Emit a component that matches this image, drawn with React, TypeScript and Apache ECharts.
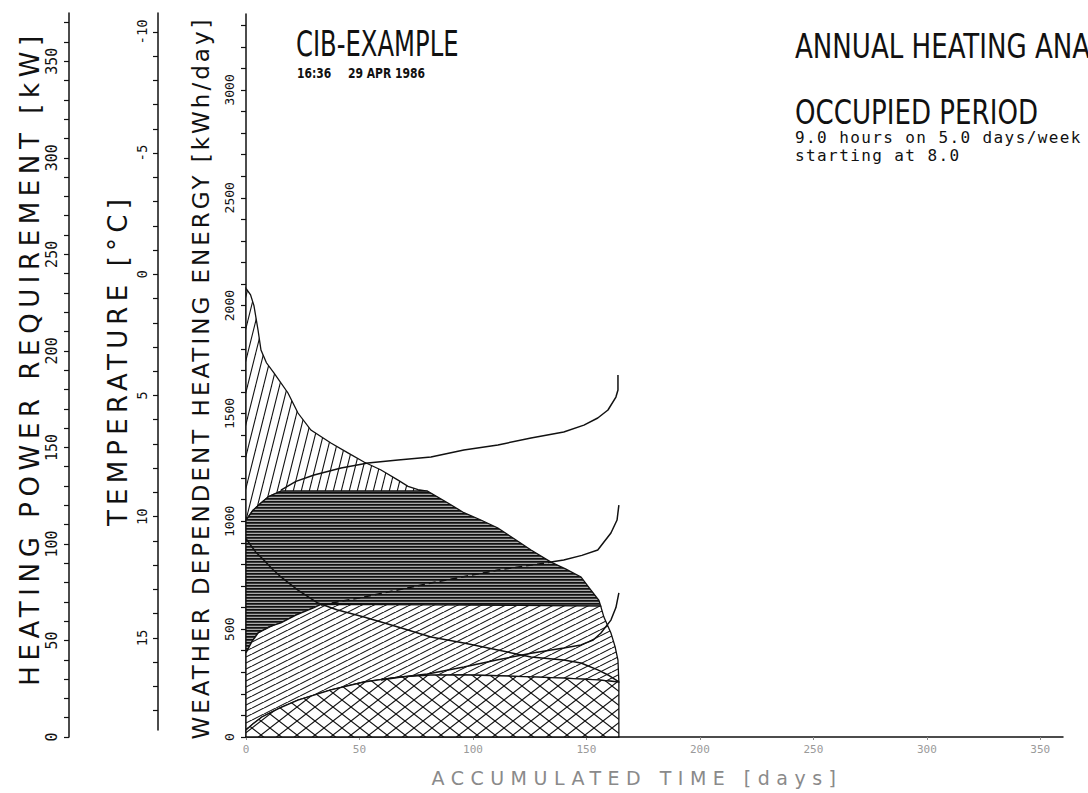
import React, { useEffect, useRef } from "react";
import * as echarts from "echarts";

type Pt = [number, number];

// ---------- axes ----------
const dayTickLabels = [0, 50, 100, 150, 200, 250, 300, 350];
const dayAxisMax = 360;
const energyTickLabels = [0, 500, 1000, 1500, 2000, 2500, 3000];
const energyMinorTicks = Array.from({ length: 34 }, (_, i) => i * 100);
const energyAxisMax = 3352;
const powerTickLabels = [0, 50, 100, 150, 200, 250, 300, 350];
const powerMinorTicks = Array.from({ length: 38 }, (_, i) => i * 10);
const powerAxisMax = 375;
const tempTickLabels = [-10, -5, 0, 5, 10, 15];
const tempMinorTicks = Array.from({ length: 29 }, (_, i) => i - 10);
const tempAxisMin = -10.78;
const tempAxisMax = 18.8;

// ---------- texts ----------
const titleMain = "CIB-EXAMPLE";
const titleTime = "16:36";
const titleDate = "29 APR 1986";
const titleRight = "ANNUAL HEATING ANALYSIS";
const periodTitle = "OCCUPIED PERIOD";
const periodLine1 = "9.0 hours on 5.0 days/week";
const periodLine2 = "starting at 8.0";
const powerTitle = "HEATING POWER REQUIREMENT [kW]";
const tempTitle = "TEMPERATURE [°C]";
const energyTitle = "WEATHER DEPENDENT HEATING ENERGY [kWh/day]";
const timeTitle = "ACCUMULATED TIME [days]";

// ---------- region boundaries (days, kWh/day) ----------
const envelopeUpper: Pt[] = [
  [0, 2080], [2, 2050], [3.5, 2000], [5.3, 1887], [6.6, 1794], [9, 1735], [12.3, 1688],
  [18.5, 1595], [22.9, 1502], [28.6, 1423], [37.4, 1363], [44.9, 1317], [52, 1275],
  [59.5, 1238], [67, 1191], [71.4, 1162], [75.8, 1147], [80, 1140],
];
const envelopeMiddle: Pt[] = [
  [80, 1140], [89, 1085], [96, 1040], [103.5, 1006], [111, 969], [118, 920], [125.6, 867],
  [134.4, 811], [141, 778], [147.6, 742], [152, 681], [155.5, 634], [156.3, 607],
];
const envelopeLower: Pt[] = [
  [156.3, 607], [157.7, 556], [160.8, 482], [162.6, 420], [163.9, 357], [164.3, 255],
];
const heatingLimit: Pt[] = [
  [0, 1006], [3, 1050], [6.6, 1085], [10, 1115], [15.4, 1140], [80, 1140],
];
const diagTop: Pt[] = [
  [0, 390], [2.5, 440], [5.3, 482], [10, 510], [15.4, 529], [22, 565], [30, 600],
  [33, 615], [80, 613], [120, 610], [156.3, 607],
];
const crossTop: Pt[] = [
  [0, 32], [3, 60], [7, 93], [15, 135], [22.9, 171], [37.4, 218], [52, 255], [67, 278],
  [81.5, 287], [96, 288], [111, 284], [125.6, 279], [140, 273], [155, 265], [164.3, 255],
];
const seasonEnd: Pt[] = [[164.3, 0], [0, 0]];

// ---------- overlaid curves ----------
const lineA: Pt[] = [
  [0, 920], [2, 890], [4.5, 855], [7.9, 820], [11.5, 780], [15.4, 742], [22.9, 681],
  [31.7, 621], [40, 590], [52, 556], [67, 510], [81.5, 464], [96, 436], [111, 403],
  [125.6, 371], [140, 357], [147.6, 343], [155, 311], [160, 285], [164.3, 255],
];
const lineB: Pt[] = [
  [15.4, 1145], [22, 1185], [30, 1215], [41.9, 1247], [53.7, 1270], [67, 1284], [81.5, 1298],
  [96, 1331], [111, 1354], [125.6, 1386], [140, 1414], [148.9, 1446], [155, 1479],
  [159.5, 1516], [163, 1576], [163.9, 1609], [163.9, 1678],
];
const lineCDashed: Pt[] = [[33, 612], [52, 649], [81.5, 714], [111, 774], [134.4, 811]];
const lineCSolid: Pt[] = [
  [134.4, 811], [140, 821], [148, 842], [155, 867], [160.8, 946], [163.5, 1006], [164.3, 1075],
];
const lineD: Pt[] = [
  [59.5, 264], [70, 280], [80, 292], [96, 325], [111, 358], [125.6, 388], [140, 413],
  [147.6, 427], [153, 450], [156.4, 482], [160.8, 542], [163, 600], [164.3, 668],
];

const rev = (a: Pt[]) => a.slice().reverse();

function makeTile(w: number, h: number, draw: (ctx: CanvasRenderingContext2D) => void) {
  const c = document.createElement("canvas");
  c.width = w;
  c.height = h;
  const ctx = c.getContext("2d") as CanvasRenderingContext2D;
  ctx.fillStyle = "#ffffff";
  ctx.fillRect(0, 0, w, h);
  ctx.strokeStyle = "#111111";
  ctx.lineWidth = 1.1;
  draw(ctx);
  return { image: c.toDataURL(), repeat: "repeat", imageWidth: w, imageHeight: h };
}

// up = true: lines rising from lower-left to upper-right ("/")
function diagLines(ctx: CanvasRenderingContext2D, w: number, h: number, up: boolean) {
  for (const dx of [-w, 0, w]) {
    ctx.beginPath();
    if (up) {
      ctx.moveTo(dx, h);
      ctx.lineTo(dx + w, 0);
    } else {
      ctx.moveTo(dx, 0);
      ctx.lineTo(dx + w, h);
    }
    ctx.stroke();
  }
}

const MONO = "'DejaVu Sans Mono', 'Liberation Mono', monospace";
const NARROW = "'Liberation Sans Narrow', 'DejaVu Sans Condensed', 'DejaVu Sans', sans-serif";
const WIDE = "'DejaVu Sans', Verdana, sans-serif";
const INK = "#111111";

// plotter-style letter spacing for the stroked-font titles
const letterSpacing: Record<string, string> = {
  [powerTitle]: "5.6px",
  [tempTitle]: "5.2px",
  [energyTitle]: "3px",
  [timeTitle]: "6.5px",
  [periodLine1]: "1.4px",
  [periodLine2]: "1.4px",
};

export default function App() {
  const ref = useRef<HTMLDivElement>(null);

  useEffect(() => {
    if (!ref.current) return;
    const host = ref.current;
    const chart = echarts.init(host, null, { renderer: "svg" });

    const steepHatch = makeTile(8, 32, (ctx) => diagLines(ctx, 8, 32, true));
    const darkHatch = makeTile(4, 3, (ctx) => {
      ctx.fillStyle = "#111111";
      ctx.fillRect(0, 0, 4, 1);
      ctx.fillStyle = "#3a3a3a";
      ctx.fillRect(0, 1, 4, 1);
      ctx.fillStyle = "#a8a8a8";
      ctx.fillRect(0, 2, 4, 1);
    });
    const diagHatch = makeTile(12, 6, (ctx) => diagLines(ctx, 12, 6, true));
    const crossHatch = makeTile(18, 14, (ctx) => {
      diagLines(ctx, 18, 14, true);
      diagLines(ctx, 18, 14, false);
    });

    const regions: { name: string; pts: Pt[]; fill: any }[] = [
      { name: "above limit", pts: [...envelopeUpper, ...rev(heatingLimit)], fill: steepHatch },
      { name: "heating", pts: [...heatingLimit, ...envelopeMiddle, ...rev(diagTop)], fill: darkHatch },
      { name: "gains", pts: [...diagTop, ...envelopeLower, ...rev(crossTop)], fill: diagHatch },
      { name: "base", pts: [...crossTop, ...seasonEnd], fill: crossHatch },
    ];

    const regionSeries = regions.map((r) => ({
      type: "custom",
      name: r.name,
      xAxisIndex: 0,
      yAxisIndex: 0,
      silent: true,
      z: 2,
      data: [r.pts[0]],
      renderItem: (_params: any, api: any) => ({
        type: "polygon",
        shape: { points: r.pts.map((p) => api.coord(p)) },
        style: { fill: r.fill, stroke: INK, lineWidth: 1.3 },
      }),
    }));

    const curve = (data: Pt[], dashed = false) => ({
      type: "line",
      xAxisIndex: 0,
      yAxisIndex: 0,
      data,
      symbol: "none",
      silent: true,
      z: 4,
      lineStyle: { color: INK, width: 1.5, type: dashed ? [7, 4] : "solid" },
    });

    const plain = (v: number) => String(v);

    const yAxisBase = (gridIndex: number) => ({
      type: "value",
      gridIndex,
      position: "left",
      axisLine: { show: true, onZero: false, lineStyle: { color: INK, width: 1.5 } },
      splitLine: { show: false },
    });

    const txt = (x: number, y: number, text: string, fontFamily: string, fontSize: number, extra: any = {}, el: any = {}) => ({
      type: "text",
      x,
      y,
      ...el,
      style: { text, fontFamily, fontSize, fill: INK, textAlign: "left", textVerticalAlign: "middle", ...extra },
    });

    const option: any = {
      animation: false,
      backgroundColor: "#ffffff",
      grid: [
        { left: 246, top: 14, width: 817, height: 723 },
        { left: 69, top: 13, width: 1, height: 724 },
        { left: 158, top: 13, width: 1, height: 717 },
      ],
      xAxis: [
        {
          type: "value",
          gridIndex: 0,
          min: 0,
          max: dayAxisMax,
          axisLine: { show: true, onZero: false, lineStyle: { color: INK, width: 1.5 } },
          axisTick: { show: true, length: 3, customValues: dayTickLabels, lineStyle: { color: "#888" } },
          axisLabel: {
            customValues: dayTickLabels,
            formatter: plain,
            color: "#9a9a9a",
            fontFamily: MONO,
            fontSize: 11,
            margin: 7,
          },
          splitLine: { show: false },
        },
        { type: "value", gridIndex: 1, show: false, min: 0, max: 1 },
        { type: "value", gridIndex: 2, show: false, min: 0, max: 1 },
      ],
      yAxis: [
        {
          ...yAxisBase(0),
          min: 0,
          max: energyAxisMax,
          axisTick: { show: true, length: 5, customValues: energyMinorTicks, lineStyle: { color: INK, width: 1.2 } },
          axisLabel: {
            customValues: energyTickLabels,
            formatter: plain,
            rotate: 90,
            margin: 10,
            color: INK,
            fontFamily: MONO,
            fontSize: 13,
          },
        },
        {
          ...yAxisBase(1),
          min: 0,
          max: powerAxisMax,
          axisTick: { show: true, length: 5, customValues: powerMinorTicks, lineStyle: { color: INK, width: 1.2 } },
          axisLabel: {
            customValues: powerTickLabels,
            formatter: plain,
            rotate: 90,
            margin: 10,
            color: INK,
            fontFamily: MONO,
            fontSize: 15,
          },
        },
        {
          ...yAxisBase(2),
          min: tempAxisMin,
          max: tempAxisMax,
          inverse: true,
          axisTick: { show: true, length: 5, customValues: tempMinorTicks, lineStyle: { color: INK, width: 1.2 } },
          axisLabel: {
            customValues: tempTickLabels,
            formatter: plain,
            rotate: 90,
            margin: 9,
            color: INK,
            fontFamily: MONO,
            fontSize: 14,
          },
        },
      ],
      graphic: [
        txt(296, 44, titleMain, NARROW, 27, {}, { scaleY: 1.3 }),
        txt(297, 73, titleTime, NARROW, 12, { fontWeight: "bold" }, { scaleY: 1.1 }),
        txt(348, 73, titleDate, NARROW, 12, { fontWeight: "bold" }, { scaleY: 1.1 }),
        txt(795, 46, titleRight, NARROW, 29, {}, { scaleY: 1.15 }),
        txt(795, 112, periodTitle, NARROW, 29, {}, { scaleY: 1.15 }),
        txt(795, 137, periodLine1, MONO, 16),
        txt(795, 155, periodLine2, MONO, 16),
        txt(30, 358, powerTitle, WIDE, 26, { textAlign: "center" }, { rotation: Math.PI / 2 }),
        txt(118, 360, tempTitle, WIDE, 26, { textAlign: "center" }, { rotation: Math.PI / 2 }),
        txt(201, 378, energyTitle, WIDE, 23, { textAlign: "center" }, { rotation: Math.PI / 2 }),
        txt(637, 778, timeTitle, WIDE, 19, { textAlign: "center", fill: "#8a8a8a" }),
      ],
      series: [
        ...regionSeries,
        curve(lineA),
        curve(lineB),
        curve(lineCDashed, true),
        curve(lineCSolid),
        curve(lineD),
      ],
    };

    const applySpacing = () => {
      host.querySelectorAll("text").forEach((t) => {
        const s = letterSpacing[(t.textContent || "").trim()];
        if (s) (t as SVGTextElement).style.letterSpacing = s;
      });
    };

    chart.on("finished", applySpacing);
    chart.setOption(option);
    applySpacing();
    const raf = requestAnimationFrame(applySpacing);
    return () => {
      cancelAnimationFrame(raf);
      chart.dispose();
    };
  }, []);

  return (
    <div
      ref={ref}
      style={{ position: "absolute", left: 0, top: 0, width: 1088, height: 793, background: "#ffffff" }}
    />
  );
}
